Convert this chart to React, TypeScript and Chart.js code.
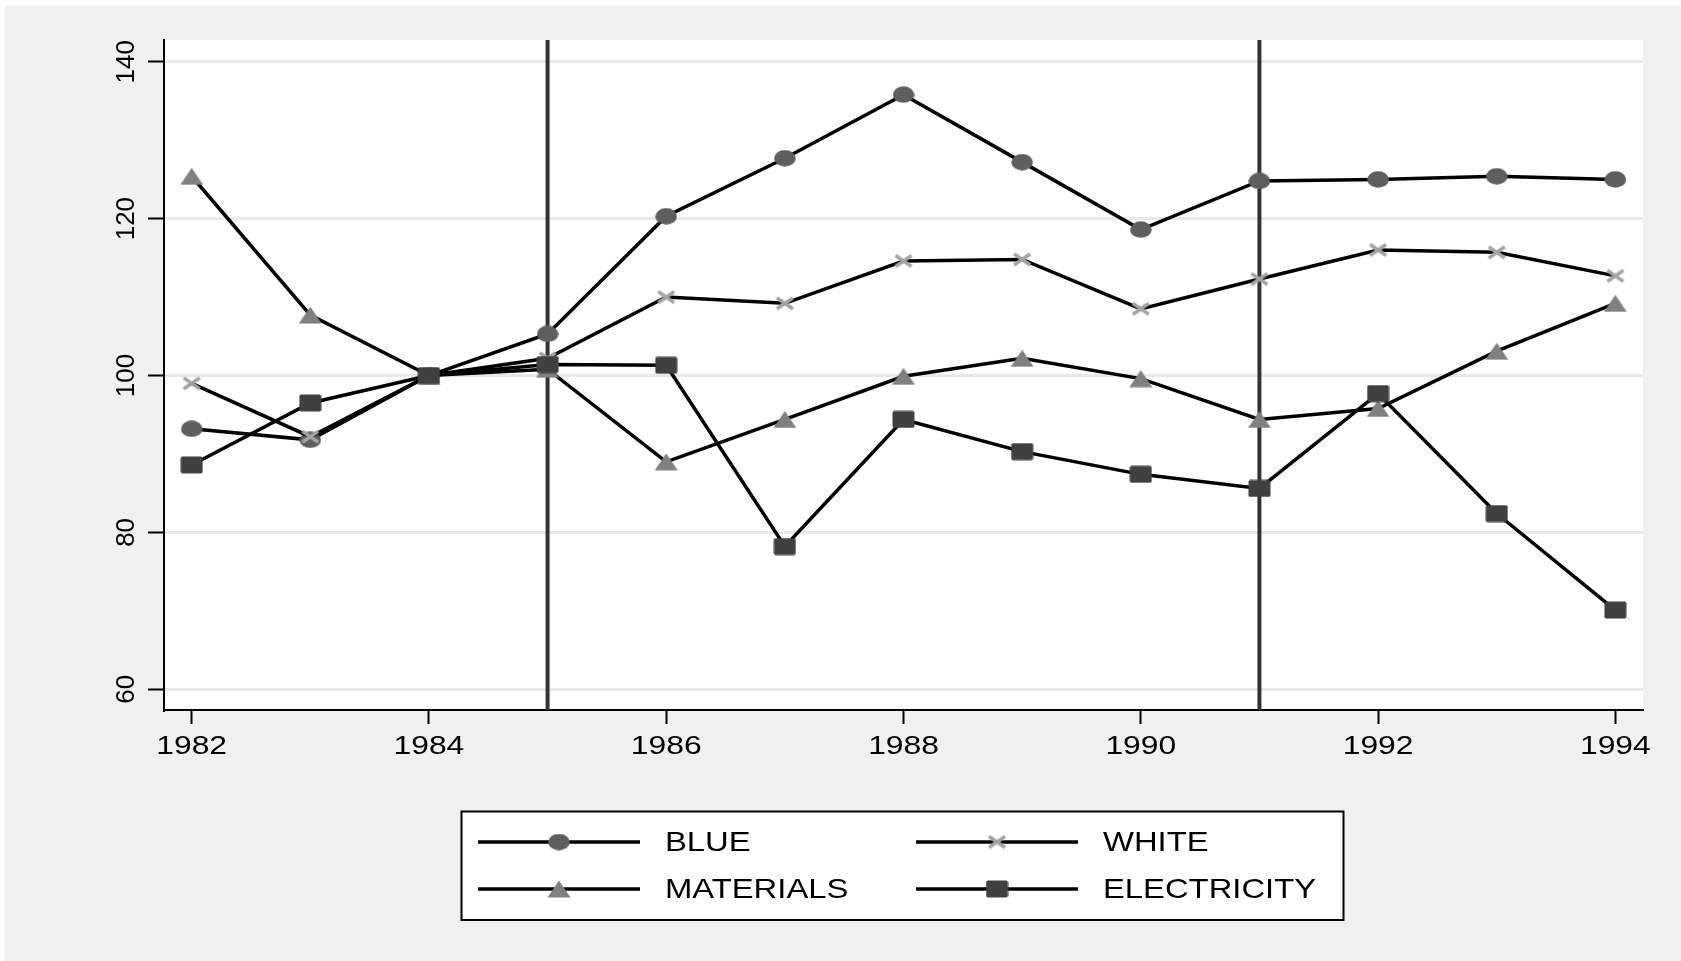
import { useEffect, useRef } from "react";
import { Chart, registerables } from "chart.js";

Chart.register(...registerables);

const YEARS = [1982, 1983, 1984, 1985, 1986, 1987, 1988, 1989, 1990, 1991, 1992, 1993, 1994];
const BLUE = [93.2, 91.8, 100, 105.3, 120.3, 127.7, 135.8, 127.2, 118.6, 124.8, 125.0, 125.4, 125.0];
const WHITE = [99.0, 92.2, 100, 102.2, 110.0, 109.2, 114.6, 114.8, 108.5, 112.3, 116.0, 115.7, 112.7];
const MATERIALS = [125.4, 107.7, 100, 100.8, 89.0, 94.4, 99.9, 102.2, 99.6, 94.4, 95.8, 103.1, 109.2];
const ELECTRICITY = [88.6, 96.5, 100, 101.4, 101.3, 78.2, 94.4, 90.3, 87.4, 85.6, 97.7, 82.4, 70.1];
const SERIES_NAMES = ["BLUE", "WHITE", "MATERIALS", "ELECTRICITY"];
const X_TICKS = [1982, 1984, 1986, 1988, 1990, 1992, 1994];
const Y_TICKS = [60, 80, 100, 120, 140];
const VLINES = [1985, 1991];

function makeMarker(kind: string): HTMLCanvasElement {
  const c = document.createElement("canvas");
  const ctx = c.getContext("2d")!;
  if (kind === "circle") {
    c.width = 22; c.height = 17;
    ctx.fillStyle = "#5e5e5e";
    ctx.beginPath();
    ctx.ellipse(11, 8.5, 10.8, 8.3, 0, 0, Math.PI * 2);
    ctx.fill();
  } else if (kind === "x") {
    c.width = 20; c.height = 15;
    ctx.strokeStyle = "#a4a4a4";
    ctx.lineWidth = 3.5;
    ctx.beginPath();
    ctx.moveTo(2, 2); ctx.lineTo(18, 13);
    ctx.moveTo(18, 2); ctx.lineTo(2, 13);
    ctx.stroke();
  } else if (kind === "triangle") {
    c.width = 24; c.height = 18;
    ctx.fillStyle = "#808080";
    ctx.beginPath();
    ctx.moveTo(12, 0.5); ctx.lineTo(23.5, 17.5); ctx.lineTo(0.5, 17.5);
    ctx.closePath();
    ctx.fill();
  } else {
    c.width = 23; c.height = 18;
    ctx.fillStyle = "#404040";
    ctx.beginPath();
    (ctx as any).roundRect ? (ctx as any).roundRect(0.5, 0.5, 22, 17, 2) : ctx.rect(0.5, 0.5, 22, 17);
    ctx.fill();
  }
  return c;
}

export default function App() {
  const ref = useRef<HTMLCanvasElement | null>(null);

  useEffect(() => {
    if (!ref.current) return;
    const markers = [makeMarker("circle"), makeMarker("x"), makeMarker("triangle"), makeMarker("square")];
    const values = [BLUE, WHITE, MATERIALS, ELECTRICITY];

    const bgPlugin = {
      id: "bg",
      beforeDraw(chart: any) {
        const { ctx, chartArea: a, width, height } = chart;
        ctx.save();
        ctx.fillStyle = "#ffffff";
        ctx.fillRect(0, 0, width, height);
        ctx.fillStyle = "#f0f0f0";
        ctx.fillRect(5, 6, width - 5, height - 6);
        ctx.fillStyle = "#ffffff";
        ctx.fillRect(a.left, a.top, a.right - a.left, a.bottom - a.top);
        ctx.restore();
      },
      beforeDatasetsDraw(chart: any) {
        const { ctx, chartArea: a } = chart;
        const xs = chart.scales.x;
        ctx.save();
        ctx.strokeStyle = "#333333";
        ctx.lineWidth = 4;
        VLINES.forEach((v) => {
          const px = xs.getPixelForValue(v);
          ctx.beginPath();
          ctx.moveTo(px, a.top);
          ctx.lineTo(px, a.bottom);
          ctx.stroke();
        });
        ctx.restore();
      },
      afterDraw(chart: any) {
        const { ctx } = chart;
        const xs = chart.scales.x;
        const ys = chart.scales.y;
        ctx.save();
        ctx.fillStyle = "#000000";
        ctx.font = "26.5px 'Liberation Sans', Arial, sans-serif";
        ctx.textAlign = "center";
        ctx.textBaseline = "alphabetic";
        xs.ticks.forEach((t: any) => {
          const px = xs.getPixelForValue(t.value);
          ctx.save();
          ctx.translate(px, 754);
          ctx.scale(1.2, 1);
          ctx.fillText(String(t.value), 0, 0);
          ctx.restore();
        });
        ctx.font = "26px 'Liberation Sans', Arial, sans-serif";
        ys.ticks.forEach((t: any) => {
          const py = ys.getPixelForValue(t.value);
          ctx.save();
          ctx.translate(134, py);
          ctx.rotate(-Math.PI / 2);
          ctx.fillText(String(t.value), 0, 0);
          ctx.restore();
        });
        const bx = 461.5, by = 811.5, bw = 882, bh = 108.5;
        ctx.fillStyle = "#ffffff";
        ctx.fillRect(bx, by, bw, bh);
        ctx.strokeStyle = "#000000";
        ctx.lineWidth = 2;
        ctx.strokeRect(bx, by, bw, bh);
        const cols = [{ l0: 478, l1: 640, m: 559, t: 665 }, { l0: 916, l1: 1078, m: 997, t: 1103 }];
        const rows = [842, 889];
        chart.data.datasets.forEach((ds: any, i: number) => {
          const col = cols[i % 2];
          const ry = rows[Math.floor(i / 2)];
          ctx.strokeStyle = "#000000";
          ctx.lineWidth = 3.5;
          ctx.beginPath();
          ctx.moveTo(col.l0, ry);
          ctx.lineTo(col.l1, ry);
          ctx.stroke();
          const mk = ds.pointStyle as HTMLCanvasElement;
          ctx.drawImage(mk, col.m - mk.width / 2, ry - mk.height / 2);
          ctx.fillStyle = "#000000";
          ctx.font = "28.5px 'Liberation Sans', Arial, sans-serif";
          ctx.textAlign = "left";
          ctx.textBaseline = "middle";
          ctx.save();
          ctx.translate(col.t, ry + 1);
          ctx.scale(1.15, 1);
          ctx.fillText(ds.label, 0, 0);
          ctx.restore();
        });
        ctx.restore();
      },
    };

    const chart = new Chart(ref.current, {
      type: "line",
      data: {
        datasets: SERIES_NAMES.map((name, i) => ({
          label: name,
          data: YEARS.map((yr, j) => ({ x: yr, y: values[i][j] })),
          borderColor: "#000000",
          borderWidth: 3.5,
          tension: 0,
          fill: false,
          pointStyle: markers[i] as any,
          pointRadius: 10,
          pointHoverRadius: 10,
          order: 4 - i,
          clip: false as any,
        })),
      },
      options: {
        animation: false,
        responsive: false,
        devicePixelRatio: 1,
        events: [],
        layout: { padding: { top: 40, right: 38, left: 0, bottom: 191 } },
        plugins: { legend: { display: false }, tooltip: { enabled: false }, title: { display: false } },
        scales: {
          x: {
            type: "linear",
            min: 1981.767,
            max: 1994.233,
            afterBuildTicks: (s: any) => { s.ticks = X_TICKS.map((v) => ({ value: v })); },
            afterFit: (s: any) => { s.height = 60; },
            ticks: { display: false },
            grid: { drawOnChartArea: false, drawTicks: true, tickLength: 14, tickColor: "#000000", tickWidth: 2 },
            border: { display: true, color: "#000000", width: 2 },
          },
          y: {
            type: "linear",
            min: 57.36,
            max: 142.77,
            afterBuildTicks: (s: any) => { s.ticks = Y_TICKS.map((v) => ({ value: v })); },
            afterFit: (s: any) => { s.width = 164; },
            ticks: { display: false },
            grid: { color: "#e8e8e8", lineWidth: 3, drawTicks: true, tickLength: 16, tickColor: "#000000", tickWidth: 2 },
            border: { display: true, color: "#000000", width: 2 },
          },
        },
      },
      plugins: [bgPlugin],
    });
    return () => chart.destroy();
  }, []);

  return (
    <div style={{ position: "fixed", left: 0, top: 0, width: 1681, height: 961, background: "#ffffff" }}>
      <canvas ref={ref} width={1681} height={961} style={{ display: "block", width: 1681, height: 961 }} />
    </div>
  );
}
